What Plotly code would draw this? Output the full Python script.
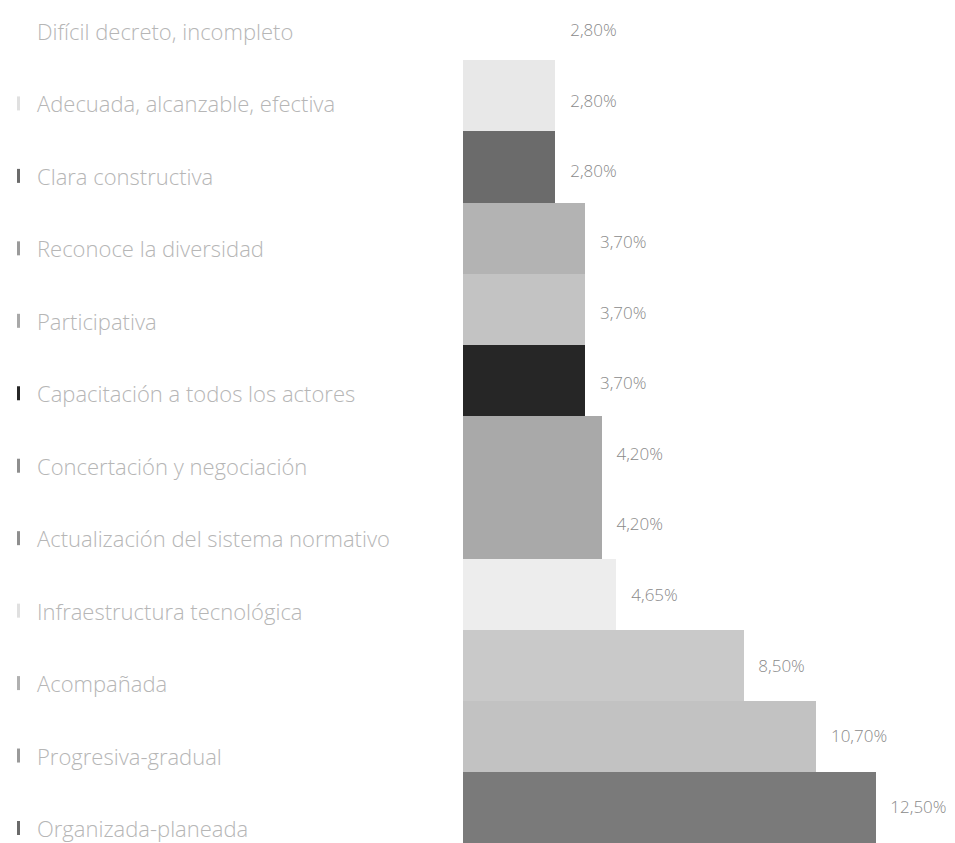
import plotly.graph_objects as go

categories = [
    "Difícil decreto, incompleto",
    "Adecuada, alcanzable, efectiva",
    "Clara constructiva",
    "Reconoce la diversidad",
    "Participativa",
    "Capacitación a todos los actores",
    "Concertación y negociación",
    "Actualización del sistema normativo",
    "Infraestructura tecnológica",
    "Acompañada",
    "Progresiva-gradual",
    "Organizada-planeada",
]
values = [2.80, 2.80, 2.80, 3.70, 3.70, 3.70, 4.20, 4.20, 4.65, 8.50, 10.70, 12.50]
value_labels = ["2,80%", "2,80%", "2,80%", "3,70%", "3,70%", "3,70%",
                "4,20%", "4,20%", "4,65%", "8,50%", "10,70%", "12,50%"]
bar_colors = ["#ffffff", "#e8e8e8", "#6b6b6b", "#b3b3b3", "#c3c3c3", "#262626",
              "#a9a9a9", "#a9a9a9", "#ededed", "#c9c9c9", "#c2c2c2", "#7a7a7a"]
marker_colors = ["#ffffff", "#e0e0e0", "#6b6b6b", "#9a9a9a", "#a8a8a8", "#262626",
                 "#8e8e8e", "#8e8e8e", "#e0e0e0", "#b0b0b0", "#9a9a9a", "#6a6a6a"]

# the page body adds an 8px offset; size the figure to fill the window
OFF = 8
W, H = 955 - OFF, 843 - OFF
PX_PER_UNIT = 33.0
ZERO_PX = 463.0 - OFF
x_range = [-ZERO_PX / PX_PER_UNIT, (W - ZERO_PX) / PX_PER_UNIT]

idx = list(range(len(categories)))

FONT = "Open Sans"

fig = go.Figure()
fig.add_trace(go.Bar(
    y=idx, x=values, orientation="h",
    marker=dict(color=bar_colors, line=dict(width=0)),
    width=1.0, hoverinfo="skip", showlegend=False,
))
# value labels just past the bar ends (own vertical scale, as in the source)
fig.add_trace(go.Scatter(
    y=idx, x=[v + 0.45 for v in values], mode="text", yaxis="y3",
    text=value_labels, textposition="middle right",
    textfont=dict(family=FONT, size=17, color="#8a8a8a", weight=300),
    hoverinfo="skip", showlegend=False, cliponaxis=False,
))
# legend-like small markers on the left, on the label axis
fig.add_trace(go.Scatter(
    y=idx, x=[x_range[0] + (18.5 - OFF) / PX_PER_UNIT] * len(idx), yaxis="y2",
    mode="markers",
    marker=dict(symbol="line-ns", size=10,
                line=dict(color=marker_colors, width=3)),
    hoverinfo="skip", showlegend=False,
))

annotations = [
    dict(x=(37 - OFF - 2) / W, xref="paper", xanchor="left",
         y=i, yref="y2", yanchor="middle", text=cat, showarrow=False,
         font=dict(family=FONT, size=22, color="#b6b6b6", weight=300))
    for i, cat in zip(idx, categories)
]

fig.update_layout(
    width=W, height=H,
    margin=dict(l=0, r=0, t=0, b=0),
    paper_bgcolor="white", plot_bgcolor="white",
    bargap=0,
    xaxis=dict(range=x_range, domain=[0, 1], visible=False, fixedrange=True),
    yaxis=dict(range=[11.49, -0.233], visible=False, fixedrange=True),
    yaxis2=dict(range=[11.207, -0.317], overlaying="y", visible=False,
                fixedrange=True),
    yaxis3=dict(range=[11.487, -0.34], overlaying="y", visible=False,
                fixedrange=True),
    annotations=annotations,
)

fig.write_html("out.html")
